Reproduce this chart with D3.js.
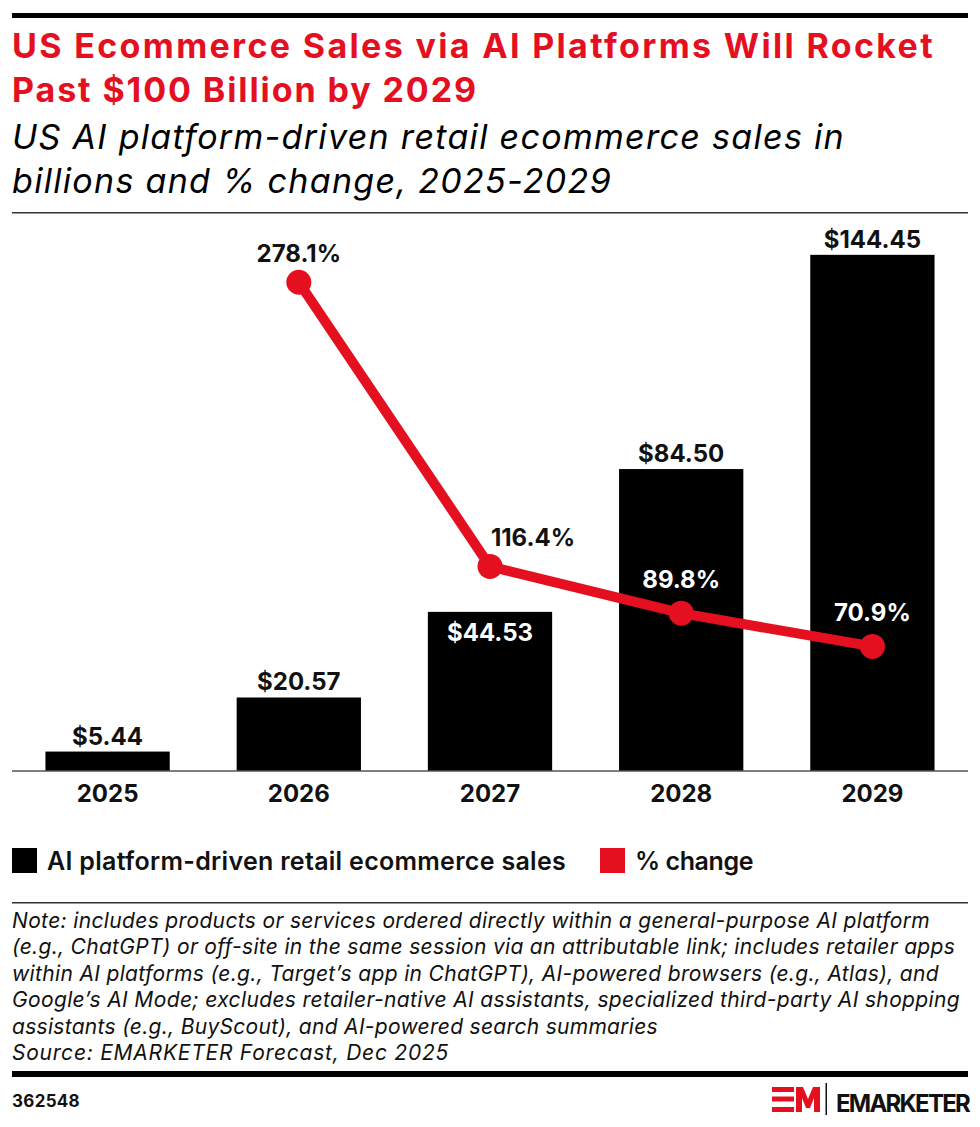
<!DOCTYPE html>
<html>
<head>
<meta charset="utf-8">
<script src="https://cdn.jsdelivr.net/npm/d3@7"></script>
<style>
  body { margin: 0; background: #fff; }
  svg { display: block; font-family: Inter, "Open Sans", sans-serif; }
</style>
</head>
<body>
<svg id="chart" width="980" height="1127"></svg>
<script>
// data
var years = ["2025", "2026", "2027", "2028", "2029"];
var sales = [5.44, 20.57, 44.53, 84.50, 144.45];       // billions
var pctChange = [null, 278.1, 116.4, 89.8, 70.9];      // % change
var salesLabels = ["$5.44", "$20.57", "$44.53", "$84.50", "$144.45"];
var pctLabels = ["", "278.1%", "116.4%", "89.8%", "70.9%"];
var legendNames = ["AI platform-driven retail ecommerce sales", "% change"];
var noteLines = [
  "Note: includes products or services ordered directly within a general-purpose AI platform",
  "(e.g., ChatGPT) or off-site in the same session via an attributable link; includes retailer apps",
  "within AI platforms (e.g., Target\u2019s app in ChatGPT), AI-powered browsers (e.g., Atlas), and",
  "Google\u2019s AI Mode; excludes retailer-native AI assistants, specialized third-party AI shopping",
  "assistants (e.g., BuyScout), and AI-powered search summaries",
  "Source: EMARKETER Forecast, Dec 2025"
];

var RED = "#e5101f";
var svg = d3.select("#chart");

// stretch/squeeze a text's letter spacing so it spans a given width
function fit(sel, width) {
  sel.each(function() {
    var n = this.textContent.length;
    var w = this.getComputedTextLength();
    if (n > 1) d3.select(this).attr("letter-spacing", ((width - w) / n).toFixed(3));
  });
  return sel;
}

// header
svg.append("rect").attr("x", 12).attr("y", 13).attr("width", 956).attr("height", 5).attr("fill", "#000");
var t1 = svg.append("text").attr("x", 12).attr("y", 58)
  .attr("font-size", 34).attr("font-weight", 700).attr("fill", RED)
  .text("US Ecommerce Sales via AI Platforms Will Rocket");
fit(t1, 923);
var t2 = svg.append("text").attr("x", 12).attr("y", 102)
  .attr("font-size", 34).attr("font-weight", 700).attr("fill", RED)
  .text("Past $100 Billion by 2029");
fit(t2, 466);
var s1 = svg.append("text").attr("x", 12).attr("y", 149)
  .attr("font-size", 34).attr("font-style", "italic").attr("font-weight", 400).attr("fill", "#000")
  .text("US AI platform-driven retail ecommerce sales in");
fit(s1, 833);
var s2 = svg.append("text").attr("x", 12).attr("y", 193)
  .attr("font-size", 34).attr("font-style", "italic").attr("font-weight", 400).attr("fill", "#000")
  .text("billions and % change, 2025-2029");
fit(s2, 600);
svg.append("rect").attr("x", 12).attr("y", 212).attr("width", 956).attr("height", 1.5).attr("fill", "#333");

// scales
var baseY = 771, topY = 235;
var x = d3.scaleBand().domain(years).range([12, 968]).paddingInner(0.35).paddingOuter(0.175);
var y = d3.scaleLinear().domain([0, 150]).range([baseY, topY]);
var yPct = d3.scaleLinear().domain([0, 305]).range([baseY, topY]);

var rows = years.map(function(yr, i) {
  return { year: yr, sales: sales[i], pct: pctChange[i], sLabel: salesLabels[i], pLabel: pctLabels[i] };
});

// bars
svg.append("g").selectAll("rect").data(rows).enter().append("rect")
  .attr("x", function(d) { return x(d.year); })
  .attr("y", function(d) { return y(d.sales); })
  .attr("width", x.bandwidth())
  .attr("height", function(d) { return baseY - y(d.sales); })
  .attr("fill", "#000");

// bar labels (2027 sits inside the bar, under the line label)
svg.append("g").selectAll("text").data(rows).enter().append("text")
  .attr("x", function(d) { return x(d.year) + x.bandwidth() / 2; })
  .attr("y", function(d) { return d.year === "2027" ? y(d.sales) + 29 : y(d.sales) - 7; })
  .attr("text-anchor", "middle").attr("font-size", 24).attr("font-weight", 700)
  .attr("fill", function(d) { return d.year === "2027" ? "#fff" : "#111"; })
  .text(function(d) { return d.sLabel; });

// axis
var xAxis = svg.append("g").attr("transform", "translate(0," + baseY + ")")
  .call(d3.axisBottom(x).tickSize(0).tickPadding(14));
xAxis.select(".domain").attr("d", "M12,0H968").attr("stroke", "#555").attr("stroke-width", 1.5);
xAxis.selectAll("text").attr("font-size", 24).attr("font-weight", 700).attr("fill", "#111")
  .attr("font-family", "Inter, sans-serif");

// % change line
var pctRows = rows.filter(function(d) { return d.pct != null; });
var line = d3.line()
  .x(function(d) { return x(d.year) + x.bandwidth() / 2; })
  .y(function(d) { return yPct(d.pct); });
svg.append("path").datum(pctRows).attr("d", line)
  .attr("fill", "none").attr("stroke", RED).attr("stroke-width", 10).attr("stroke-linejoin", "round");
svg.append("g").selectAll("circle").data(pctRows).enter().append("circle")
  .attr("cx", function(d) { return x(d.year) + x.bandwidth() / 2; })
  .attr("cy", function(d) { return yPct(d.pct); })
  .attr("r", 12.5).attr("fill", RED);
svg.append("g").selectAll("text").data(pctRows).enter().append("text")
  .attr("x", function(d) { return x(d.year) + x.bandwidth() / 2 + (d.year === "2027" ? 43 : 0); })
  .attr("y", function(d) { return yPct(d.pct) - (d.year === "2026" || d.year === "2027" ? 20 : 25); })
  .attr("text-anchor", "middle").attr("font-size", 24).attr("font-weight", 700)
  .attr("fill", function(d) { return d.sales > 80 ? "#fff" : "#111"; })
  .text(function(d) { return d.pLabel; });

// legend
var legend = svg.append("g").attr("transform", "translate(0,848)");
var legX = [12, 600], legCol = ["#000", RED], legW = [519, 118];
legendNames.forEach(function(name, i) {
  legend.append("rect").attr("x", legX[i]).attr("y", 0).attr("width", 25).attr("height", 25).attr("fill", legCol[i]);
  var lt = legend.append("text").attr("x", legX[i] + 35).attr("y", 22)
    .attr("font-size", 25).attr("font-weight", 600).attr("fill", "#111").text(name);
  fit(lt, legW[i]);
});

// notes
var noteW = [918, 943, 927, 948, 646, 437];
svg.append("rect").attr("x", 12).attr("y", 902).attr("width", 956).attr("height", 1.5).attr("fill", "#333");
svg.append("g").selectAll("text").data(noteLines).enter().append("text")
  .attr("x", 12).attr("y", function(d, i) { return 928 + i * 26.4; })
  .attr("font-size", 21).attr("font-style", "italic").attr("fill", "#111")
  .text(function(d) { return d; })
  .each(function(d, i) { fit(d3.select(this), noteW[i]); });

// footer
svg.append("rect").attr("x", 12).attr("y", 1071).attr("width", 956).attr("height", 6).attr("fill", "#000");
var id = svg.append("text").attr("x", 12).attr("y", 1107)
  .attr("font-size", 17).attr("font-weight", 700).attr("fill", "#111").text("362548");
fit(id, 68);

// EMARKETER logo
var logo = svg.append("g").attr("transform", "translate(772,1087)");
[0, 9.5, 20].forEach(function(yy) {
  logo.append("rect").attr("x", 0).attr("y", yy).attr("width", 22).attr("height", 5).attr("fill", RED);
});
logo.append("path").attr("fill", RED)
  .attr("d", "M24,0 H31 L36,12 L41,0 H48 L48,25 H42 L42,11 L38,21 H34 L30,11 L30,25 H24 Z");
svg.append("rect").attr("x", 825.5).attr("y", 1083).attr("width", 1.5).attr("height", 32).attr("fill", "#111");
var brand = svg.append("text").attr("x", 836).attr("y", 1112)
  .attr("font-size", 24).attr("font-weight", 700).attr("fill", "#111")
  .text("EMARKETER");
fit(brand, 133);
</script>
</body>
</html>
